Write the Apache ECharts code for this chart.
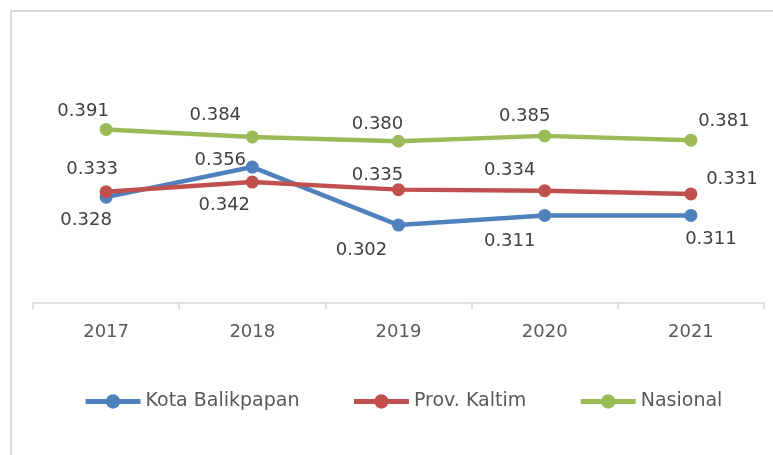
<!DOCTYPE html>
<html>
<head>
<meta charset="utf-8">
<script src="https://cdn.jsdelivr.net/npm/echarts@6/dist/echarts.min.js"></script>
<style>
html,body{margin:0;padding:0;background:#fff;}
#chart{width:773px;height:455px;}
</style>
</head>
<body>
<div id="chart"></div>
<script>
var categories = ['2017', '2018', '2019', '2020', '2021'];
var seriesNames = ['Kota Balikpapan', 'Prov. Kaltim', 'Nasional'];
var kotaBalikpapan = [0.328, 0.356, 0.302, 0.311, 0.311];
var provKaltim = [0.333, 0.342, 0.335, 0.334, 0.331];
var nasional = [0.391, 0.384, 0.380, 0.385, 0.381];

// label placement (layout only)
var kotaOffsets = [[-20, 23], [-32, -7], [-37, 25], [-35, 26], [20, 24]];
var kaltimOffsets = [[-14, -22], [-28, 23], [-21, -14], [-35, -20], [41, -15]];
var nasOffsets = [[-23, -18], [-37, -22], [-21, -17], [-20, -20], [33, -19]];

var FONT = 'DejaVu Sans';

function buildData(values, offsets) {
  return values.map(function (v, i) {
    return { value: v, label: { offset: offsets[i] } };
  });
}

function makeSeries(name, values, offsets, color) {
  return {
    name: name,
    type: 'line',
    data: buildData(values, offsets),
    symbol: 'circle',
    symbolSize: 13,
    lineStyle: { color: color, width: 4.5 },
    itemStyle: { color: color },
    emphasis: { disabled: true },
    animation: false,
    label: {
      show: true,
      position: 'inside',
      align: 'center',
      verticalAlign: 'middle',
      color: '#404040',
      fontFamily: FONT,
      fontSize: 18,
      formatter: function (p) { return p.value.toFixed(3); }
    }
  };
}

var chart = echarts.init(document.getElementById('chart'), null, { renderer: 'canvas' });
chart.setOption({
  backgroundColor: '#ffffff',
  animation: false,
  graphic: [{
    type: 'rect',
    shape: { x: 11, y: 11, width: 900, height: 600 },
    style: { fill: 'none', stroke: '#D9D9D9', lineWidth: 2 },
    silent: true,
    z: 0
  }],
  grid: { left: 33, right: 9, top: 109, bottom: 152.5 },
  legend: {
    data: seriesNames,
    left: 83,
    top: 392,
    padding: 0,
    itemWidth: 55,
    itemHeight: 18,
    itemGap: 52,
    lineStyle: { width: 5 },
    textStyle: { color: '#595959', fontFamily: FONT, fontSize: 19 }
  },
  xAxis: {
    type: 'category',
    data: categories,
    boundaryGap: true,
    axisLine: { lineStyle: { color: '#D9D9D9', width: 1.5 } },
    axisTick: { show: true, length: 7, lineStyle: { color: '#D9D9D9', width: 1.5 } },
    axisLabel: { color: '#595959', fontFamily: FONT, fontSize: 18, margin: 21 }
  },
  yAxis: {
    type: 'value',
    min: 0.23,
    max: 0.41,
    show: false,
    splitLine: { show: false }
  },
  series: [
    makeSeries(seriesNames[0], kotaBalikpapan, kotaOffsets, '#4F81BD'),
    makeSeries(seriesNames[1], provKaltim, kaltimOffsets, '#C0504D'),
    makeSeries(seriesNames[2], nasional, nasOffsets, '#9BBB59')
  ]
});
</script>
</body>
</html>
